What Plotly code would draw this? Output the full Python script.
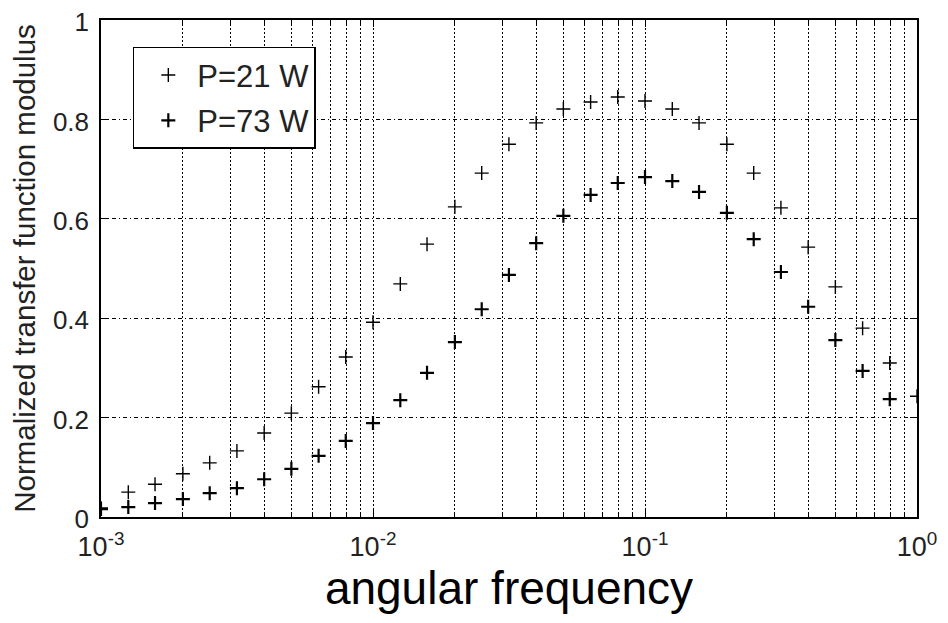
import plotly.graph_objects as go

# ---- data ----
freq = [0.001, 0.00126, 0.00158, 0.002, 0.00251, 0.00316, 0.00398, 0.00501, 0.00631, 0.00794,
        0.01, 0.0126, 0.0158, 0.02, 0.0251, 0.0316, 0.0398, 0.0501, 0.0631, 0.0794,
        0.1, 0.126, 0.158, 0.2, 0.251, 0.316, 0.398, 0.501, 0.631, 0.794, 1.0]

p21 = [0.018, 0.050, 0.066, 0.087, 0.109, 0.133, 0.169, 0.209, 0.262, 0.322,
       0.392, 0.469, 0.549, 0.624, 0.692, 0.750, 0.793, 0.821, 0.835, 0.845,
       0.837, 0.821, 0.793, 0.750, 0.692, 0.622, 0.543, 0.463, 0.380, 0.310, 0.243]

p73 = [0.016, 0.020, 0.028, 0.036, 0.048, 0.058, 0.076, 0.097, 0.123, 0.153,
       0.189, 0.235, 0.290, 0.352, 0.418, 0.487, 0.551, 0.606, 0.648, 0.672,
       0.684, 0.676, 0.654, 0.612, 0.559, 0.493, 0.423, 0.356, 0.294, 0.237]

series_names = ["P=21 W", "P=73 W"]
x_tick_vals = [0.001, 0.01, 0.1, 1]
x_tick_text = ["10<sup>-3</sup>", "10<sup>-2</sup>", "10<sup>-1</sup>", "10<sup>0</sup>"]
y_tick_vals = [0, 0.2, 0.4, 0.6, 0.8, 1]
y_tick_text = ["0", "0.2", "0.4", "0.6", "0.8", "1"]
x_title = "angular frequency"
y_title = "Normalized transfer function modulus"

FONT = "Liberation Sans, Arial, Helvetica, sans-serif"
minor_vals = [m * 10 ** e for e in (-3, -2, -1) for m in range(2, 10)]

fig = go.Figure()
fig.add_trace(go.Scatter(
    x=freq, y=p21, mode="markers", name=series_names[0], legendgroup="g1",
    marker=dict(symbol="cross-thin", size=10, line=dict(color="black", width=1.4)),
))
fig.add_trace(go.Scatter(
    x=freq[:len(p73)], y=p73, mode="markers", name=series_names[1], legendgroup="g2",
    marker=dict(symbol="cross-thin", size=10, line=dict(color="black", width=2.2)),
))

# page body adds an 8px offset, so the figure is 940x615 to fill the 948x623 window
fig.update_layout(
    width=940, height=615,
    margin=dict(l=93, r=31, t=12, b=106),
    paper_bgcolor="white", plot_bgcolor="white",
    font=dict(family=FONT, color="black"),
    showlegend=True,
    legend=dict(
        x=0.039, y=0.946, xanchor="left", yanchor="top",
        bgcolor="white", bordercolor="black", borderwidth=1.5,
        font=dict(size=31, family=FONT, color="#222"),
        indentation=5, itemwidth=48, tracegroupgap=2,
    ),
    xaxis=dict(
        type="log", range=[-3, 0], automargin=False,
        tickmode="array", tickvals=x_tick_vals, ticktext=x_tick_text,
        ticks="inside", ticklen=7, tickwidth=1, tickcolor="black",
        showline=True, linecolor="black", linewidth=1.5, mirror="ticks",
        showgrid=True, gridcolor="black", gridwidth=1, griddash="2px,2px",
        minor=dict(tickvals=minor_vals, ticks="inside", ticklen=5, tickcolor="black",
                   showgrid=True, gridcolor="black", gridwidth=1, griddash="2px,2px"),
        tickfont=dict(size=27, family=FONT, color="#222"),
        ticklabelstandoff=5, ticklabeloverflow="allow",
        title=dict(text=x_title, font=dict(size=46, family=FONT, color="black"), standoff=0),
        zeroline=False,
    ),
    yaxis=dict(
        range=[0, 1], automargin=False,
        tickmode="array", tickvals=y_tick_vals, ticktext=y_tick_text,
        ticks="inside", ticklen=7, tickwidth=1, tickcolor="black",
        showline=True, linecolor="black", linewidth=1.5, mirror="ticks",
        showgrid=True, gridcolor="black", gridwidth=1, griddash="4px,3px,1px,3px",
        tickfont=dict(size=26, family=FONT, color="#222"),
        ticklabelstandoff=5, ticklabeloverflow="allow", ticklabelshift=2,
        title=dict(text=y_title, font=dict(size=29.5, family=FONT, color="#222"), standoff=10),
        zeroline=False,
    ),
)

fig.write_html("out.html")
